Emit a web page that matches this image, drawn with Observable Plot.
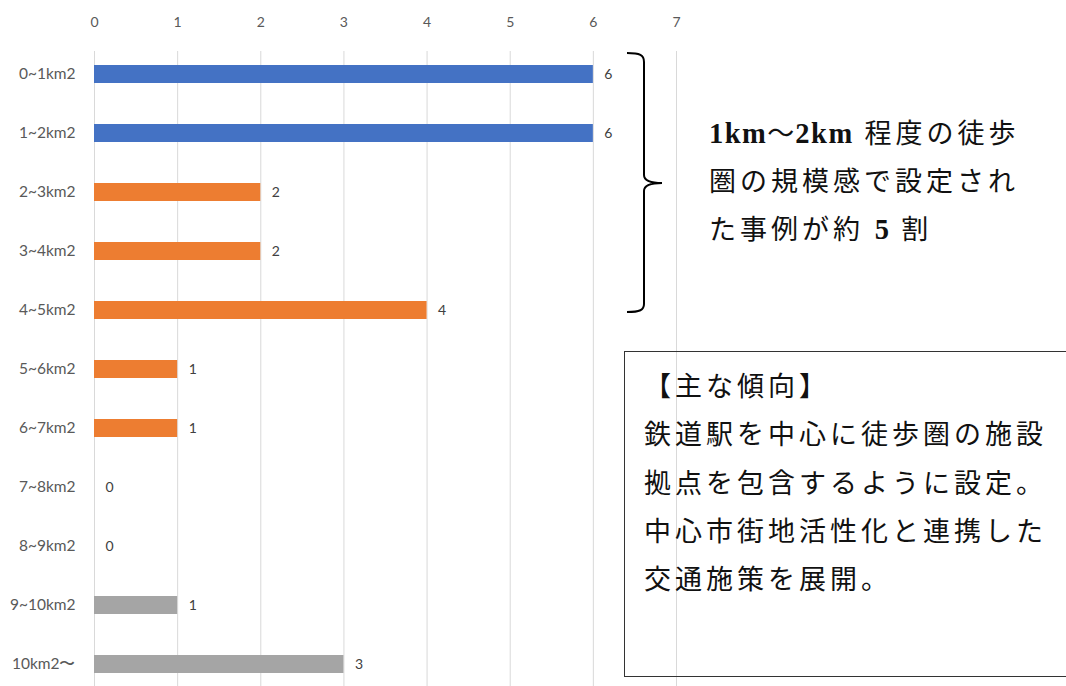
<!DOCTYPE html>
<html><head><meta charset="utf-8">
<script src="https://cdn.jsdelivr.net/npm/d3@7"></script>
<script src="https://cdn.jsdelivr.net/npm/@observablehq/plot@0.6"></script>
<style>
body{margin:0;background:#fff;}
#wrap{position:relative;width:1066px;height:686px;overflow:hidden;}
.note{position:absolute;font-family:"Liberation Serif","Noto Sans CJK JP",serif;color:#111;font-size:27px;letter-spacing:4px;line-height:47.5px;white-space:nowrap;}
.lat{letter-spacing:1.5px;font-weight:bold;font-size:28.5px;font-family:"Liberation Serif",serif;}
.wave{font-family:"Noto Sans CJK JP",sans-serif;letter-spacing:1px;}
#box{position:absolute;left:624px;top:351px;width:460px;height:326px;border:1.5px solid #333;box-sizing:border-box;}
</style></head><body>
<div id="wrap"></div>
<script>
const categories = ["0~1km2","1~2km2","2~3km2","3~4km2","4~5km2","5~6km2","6~7km2","7~8km2","8~9km2","9~10km2","10km2〜"];
const counts = [6,6,2,2,4,1,1,0,0,1,3];
const groups = ["0-2km2","0-2km2","2-9km2","2-9km2","2-9km2","2-9km2","2-9km2","2-9km2","2-9km2","9km2+","9km2+"];
const groupNames = ["0-2km2","2-9km2","9km2+"];
const groupColors = ["#4472C4","#ED7D31","#A5A5A5"];
const xTicks = [0,1,2,3,4,5,6,7];

const data = categories.map((c,i)=>({cat:c, n:counts[i], g:groups[i]}));

const chart = Plot.plot({
  width:1066, height:686,
  marginLeft:94, marginRight:390, marginTop:51, marginBottom:0,
  style:{fontFamily:"Lato, 'Noto Sans', sans-serif", fontSize:"14px", color:"#595959", background:"#fff"},
  x:{domain:[0,7], ticks:xTicks, tickFormat:"d"},
  y:{domain:categories, paddingInner:0.7, paddingOuter:0.204, label:null},
  color:{domain:groupNames, range:groupColors},
  marks:[
    Plot.gridX(xTicks,{stroke:"#D9D9D9", strokeOpacity:1, strokeWidth:1}),
    Plot.axisX({anchor:"top", ticks:xTicks, tickFormat:"d", tickSize:0, tickPadding:25, label:null, fill:"#595959", fontSize:14}),
    Plot.axisY({tickSize:0, tickPadding:19, label:null, fill:"#595959", fontSize:15.5}),
    Plot.barX(data,{y:"cat", x:"n", fill:"g"}),
    Plot.text(data,{y:"cat", x:"n", text:d=>String(d.n), dx:11, textAnchor:"start", fill:"#404040", fontSize:14})
  ]
});
document.getElementById("wrap").appendChild(chart);

// brace annotation
d3.select(chart).append("path")
  .attr("d","M627,53 C640,53 644,55 644,62 L644,175 C644,180 650,183 662,183 C650,183 644,186 644,191 L644,304 C644,310 640,312 627,312")
  .attr("fill","none").attr("stroke","#000").attr("stroke-width",2);

const wrap = document.getElementById("wrap");
const note1 = document.createElement("div");
note1.className="note";
note1.style.left="709px"; note1.style.top="108px";
note1.innerHTML='<span class="lat">1km</span><span class="wave">～</span><span class="lat">2km</span> 程度の徒歩<br>圏の規模感で設定され<br>た事例が約 <span class="lat">5</span> 割';
wrap.appendChild(note1);

const box = document.createElement("div");
box.id="box";
wrap.appendChild(box);
const note2 = document.createElement("div");
note2.className="note";
note2.style.left="644px"; note2.style.top="363px"; note2.style.lineHeight="48.3px";
note2.innerHTML="【主な傾向】<br>鉄道駅を中心に徒歩圏の施設<br>拠点を包含するように設定。<br>中心市街地活性化と連携した<br>交通施策を展開。";
wrap.appendChild(note2);
</script>
</body></html>
